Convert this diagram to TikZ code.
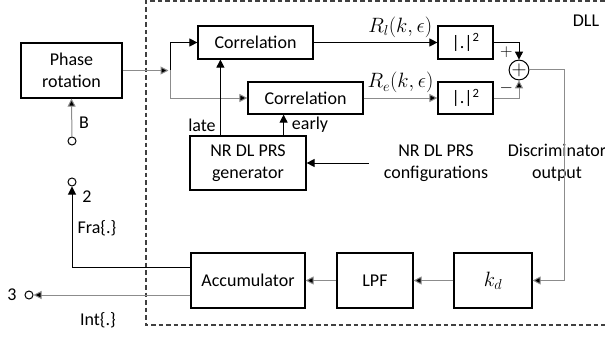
\documentclass[tikz,border=0pt]{standalone}
\usepackage{fontspec}
\setmainfont{Carlito}
\usetikzlibrary{arrows.meta}
\begin{document}
\begin{tikzpicture}[x=1pt,y=-1pt,
  font=\fontsize{18}{21.5}\selectfont,
  blk/.style={draw, line width=1.2pt, inner sep=0pt, align=center},
  ln/.style={line width=1pt, draw=black},
  gl/.style={line width=1pt, draw=black!45},
  arr/.style={-{Triangle[length=8pt,width=8pt,fill=black]}},
  term/.style={circle, draw, line width=1pt, minimum size=8pt, inner sep=0pt},
  lbl/.style={inner sep=0pt, align=center}
]
\useasboundingbox (0,0) rectangle (605,337);
\draw[line width=1.2pt, draw=black!75, dash pattern=on 4.5pt off 3pt] (612,1) -- (146,1) -- (146,325) -- (612,325);

% blocks
\node[blk, minimum width=101pt, minimum height=55pt] (phase) at (71.5,70.5) {Phase\\rotation};
\node[blk, minimum width=115pt, minimum height=33pt] (corr1) at (255.5,42.5) {Correlation};
\node[blk, minimum width=115pt, minimum height=32pt] (corr2) at (305.5,98) {Correlation};
\node[blk, minimum width=55pt, minimum height=33pt] (sq1) at (465.5,42.5) {|.|\textsuperscript{2}};
\node[blk, minimum width=55pt, minimum height=32pt] (sq2) at (465.5,98) {|.|\textsuperscript{2}};
\node[circle, draw, line width=1pt, minimum size=16pt, inner sep=0pt, font=\fontsize{22}{22}\selectfont] (sum) at (519,70) {$+$};
\node[blk, minimum width=116pt, minimum height=54pt] (gen) at (248,163) {NR DL PRS\\generator};
\node[blk, minimum width=78pt, minimum height=55pt, font=\fontsize{22}{22}\selectfont] (kd) at (493,280.5) {$k_d$};
\node[blk, minimum width=76pt, minimum height=55pt] (lpf) at (375,280.5) {LPF};
\node[blk, minimum width=114pt, minimum height=55pt] (acc) at (248,280.5) {Accumulator};

% terminals
\node[term] (tB) at (72,141) {};
\node[term] (t2) at (72,182) {};
\node[term] (t3) at (29,295) {};

% texts
\node[lbl] (cfg) at (436,163) {NR DL PRS\\configurations};
\node[lbl] (disc) at (557,163) {Discriminator\\output};
\node[lbl] (dll) at (586,21) {DLL};
\node[lbl] (lB) at (84,123) {B};
\node[lbl] (l2) at (87,197) {2};
\node[lbl] (l3) at (12,295) {3};
\node[lbl] (lfra) at (97,228) {Fra\{.\}};
\node[lbl] (lint) at (98,320) {Int\{.\}};
\node[lbl] (llate) at (202,125) {late};
\node[lbl] (learly) at (310,125) {early};

% connectors
\coordinate (j) at (170,70.5);
\draw[gl,arr] (tB) -- (phase.south);
\draw[gl,arr,shorten >=1.5pt] (phase.east) -- (j);
\draw[ln,arr] (j) |- (corr1.west);
\draw[gl,arr] (j) |- (corr2.west);
\draw[ln,arr] (corr1.east) -- (sq1.west) node[pos=0.7, above=1pt, font=\fontsize{20.5}{20.5}\selectfont] {$R_l(k,\epsilon)$};
\draw[gl,arr] (corr2.east) -- (sq2.west) node[midway, above=1pt, font=\fontsize{20.5}{20.5}\selectfont] {$R_e(k,\epsilon)$};
\draw[ln,arr] (sq1.east) -| (sum.north) node[pos=0.25, below=0pt, font=\fontsize{16}{16}\selectfont] {$+$};
\draw[gl,arr] (sq2.east) -| (sum.south) node[pos=0.25, above=0pt, font=\fontsize{16}{16}\selectfont] {$-$};
\draw[gl,arr] (sum.east) -- ++(35,0) |- (kd.east);
\draw[ln,arr] ([xshift=31pt]gen.north west) -- ([xshift=31pt]gen.north west |- corr1.south);
\draw[ln,arr] ([xshift=-23pt]gen.north east) -- ([xshift=-23pt]gen.north east |- corr2.south);
\draw[ln,arr] ([xshift=-15pt]cfg.west) -- (gen.east);
\draw[gl,arr] (kd.west) -- (lpf.east);
\draw[gl,arr] (lpf.west) -- (acc.east);
\draw[ln,arr] ([yshift=13.5pt]acc.west) -| (t2.south);
\draw[gl,arr] ([yshift=-14.5pt]acc.west) -- (t3.east);
\end{tikzpicture}
\end{document}
